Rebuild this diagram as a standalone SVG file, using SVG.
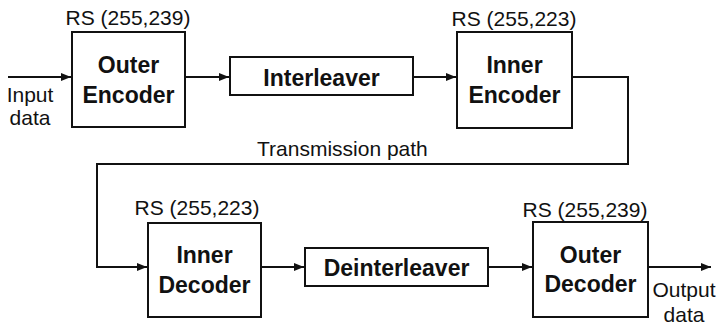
<svg xmlns="http://www.w3.org/2000/svg" width="719" height="326" viewBox="0 0 719 326">
<style>
.box{fill:#fff;stroke:#111;stroke-width:2}
.lbl{font-family:"Liberation Sans",Arial,sans-serif;font-size:23px;font-weight:bold;fill:#111;text-anchor:middle}
.rs{font-family:"Liberation Sans",Arial,sans-serif;font-size:21px;fill:#111;text-anchor:middle}
.txt{font-family:"Liberation Sans",Arial,sans-serif;font-size:21px;fill:#111}
.wire{fill:none;stroke:#111;stroke-width:2}
</style>
<defs>
<marker id="arr" markerUnits="userSpaceOnUse" markerWidth="10" markerHeight="10" viewBox="0 0 10 10" refX="10" refY="5" orient="auto">
<path d="M0,1 L10,5 L0,9 Z" fill="#111"/>
</marker>
</defs>
<rect width="719" height="326" fill="#fff"/>
<g id="connectors">
<line class="wire" x1="8" y1="77" x2="71" y2="77" marker-end="url(#arr)"/>
<line class="wire" x1="185" y1="77" x2="229" y2="77" marker-end="url(#arr)"/>
<line class="wire" x1="413" y1="77" x2="456" y2="77" marker-end="url(#arr)"/>
<path class="wire" d="M572,77 H628 V164 H97 V267 H147" marker-end="url(#arr)"/>
<line class="wire" x1="261" y1="267" x2="304" y2="267" marker-end="url(#arr)"/>
<line class="wire" x1="488" y1="267" x2="532" y2="267" marker-end="url(#arr)"/>
<line class="wire" x1="648" y1="267" x2="711" y2="267" marker-end="url(#arr)"/>
<text class="txt" x="257" y="156">Transmission path</text>
<text class="rs" x="30" y="102">Input</text>
<text class="rs" x="30" y="125">data</text>
<text class="rs" x="684" y="297">Output</text>
<text class="rs" x="684" y="322">data</text>
</g>
<g id="outer-encoder">
<text class="rs" x="128" y="25">RS (255,239)</text>
<rect class="box" x="72" y="32" width="113" height="95"/>
<text class="lbl" x="128.5" y="73">Outer</text>
<text class="lbl" x="128.5" y="103">Encoder</text>
</g>
<g id="interleaver">
<rect class="box" x="230" y="57" width="183" height="38"/>
<text class="lbl" x="321.5" y="86">Interleaver</text>
</g>
<g id="inner-encoder">
<text class="rs" x="514" y="26">RS (255,223)</text>
<rect class="box" x="457" y="32" width="115" height="96"/>
<text class="lbl" x="514.5" y="73">Inner</text>
<text class="lbl" x="514.5" y="103">Encoder</text>
</g>
<g id="inner-decoder">
<text class="rs" x="197" y="215">RS (255,223)</text>
<rect class="box" x="148" y="223" width="113" height="94"/>
<text class="lbl" x="204.5" y="263">Inner</text>
<text class="lbl" x="204.5" y="293">Decoder</text>
</g>
<g id="deinterleaver">
<rect class="box" x="305" y="248" width="183" height="38"/>
<text class="lbl" x="396.5" y="276">Deinterleaver</text>
</g>
<g id="outer-decoder">
<text class="rs" x="585" y="217">RS (255,239)</text>
<rect class="box" x="533" y="222" width="115" height="95"/>
<text class="lbl" x="590.5" y="263">Outer</text>
<text class="lbl" x="590.5" y="292">Decoder</text>
</g>
</svg>
